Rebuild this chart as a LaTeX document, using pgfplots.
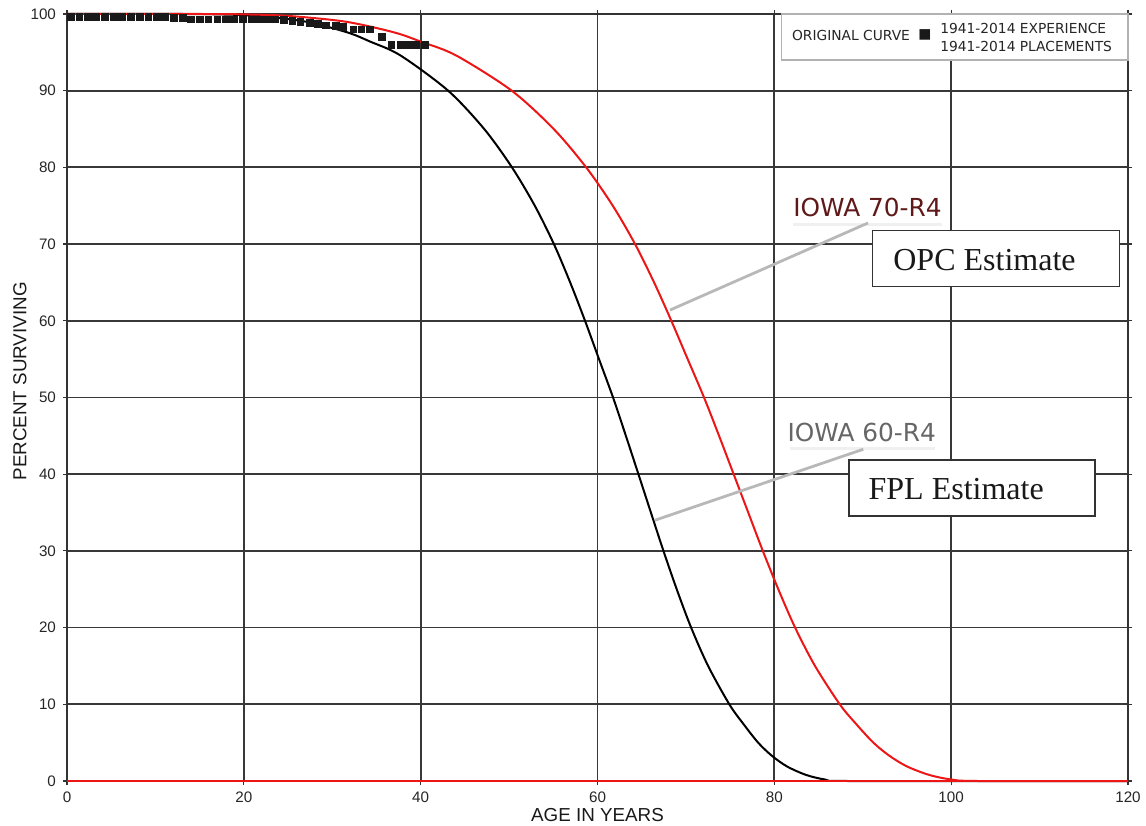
\documentclass[border=0pt]{standalone}
\usepackage{fontspec}
\setmainfont{Liberation Sans}
\newfontfamily\dejavu{DejaVu Sans}
\newfontfamily\timesf{Liberation Serif}
\usepackage{pgfplots}
\pgfplotsset{compat=1.18}
\definecolor{iowared}{RGB}{95,25,25}
\definecolor{curvered}{RGB}{236,22,22}

\begin{document}
\begin{tikzpicture}
\begin{axis}[
 name=ax,
 scale only axis, width=530.5pt, height=383.5pt,
 xmin=0, xmax=120, ymin=0, ymax=100,
 xtick={0,20,...,120}, ytick={0,10,...,100},
 grid=major,
 major grid style={line width=0.9pt, color=black!78},
 axis line style={line width=0.9pt, color=black!80},
 tick align=outside, major tick length=2pt,
 tick style={black!80, line width=0.6pt},
 ticklabel style={font=\fontsize{7.6}{8}\selectfont, text=black!85},
 /pgf/number format/assume math mode=true,
 xlabel={AGE IN YEARS}, ylabel={PERCENT SURVIVING},
 label style={font=\fontsize{9.4}{10}\selectfont, text=black!90, inner sep=0pt},
 xlabel style={at={(rel axis cs:0.5,-0.0352)}, anchor=north},
 ylabel style={at={(rel axis cs:-0.0443,0.521)}, anchor=center},
 clip=false,
]
% IOWA 60-R4 (FPL estimate)
\addplot[black, line width=1pt, smooth, tension=0.5] coordinates {
(0,100) (12.86,100) (17.14,99.95) (21.43,99.75) (27.0,99.0) (31.71,97.6)
(34.29,96.4) (37.71,94.6) (43.11,90) (47.19,85) (50.33,80) (52.91,75)
(55.07,70) (56.91,65) (58.59,60) (60.17,55) (61.76,50) (63.21,45) (64.63,40)
(66.04,35) (67.46,30) (68.96,25) (70.59,20) (72.51,15) (74.91,10) (76.46,7.5)
(78.17,5) (79.71,3.3) (81.43,1.9) (83.57,0.8) (85.71,0.2) (88.29,0) (120,0)};
% IOWA 70-R4 (OPC estimate)
\addplot[curvered, line width=1pt, smooth, tension=0.5] coordinates {
(0,100) (15,100) (20,99.95) (25,99.75) (31.5,99.0) (37,97.6) (40,96.4)
(44,94.6) (50.3,90) (55.05,85) (58.72,80) (61.73,75) (64.25,70) (66.4,65)
(68.35,60) (70.2,55) (72.05,50) (73.75,45) (75.4,40) (77.05,35) (78.7,30)
(80.45,25) (82.35,20) (84.6,15) (87.4,10) (89.2,7.5) (91.2,5) (93,3.3)
(95,1.9) (97.5,0.8) (100,0.2) (103,0) (120,0)};
\addplot[curvered, line width=1pt] coordinates {(0,0) (120,0)};
% 1941-2014 experience
\addplot[only marks, mark=square*, mark size=1.7pt, black!90] coordinates {
(0.4,99.6) (1.4,99.6) (2.35,99.6) (3.3,99.6) (4.3,99.6) (5.3,99.6) (6.25,99.6)
(7.2,99.6) (8.2,99.6) (9.2,99.6) (10.15,99.6) (11.1,99.6) (12.1,99.45) (13.1,99.45)
(14.05,99.3) (15.0,99.3) (16.0,99.3) (17.0,99.3) (17.95,99.3) (18.9,99.3)
(19.9,99.3) (20.9,99.3) (21.8,99.3) (22.7,99.3) (23.5,99.3) (24.5,99.2)
(25.5,99.1) (26.4,99.0) (27.5,98.8) (28.4,98.7) (29.3,98.5) (30.4,98.4)
(31.2,98.3) (32.4,98.0) (33.3,98.0) (34.3,98.0) (35.6,97.0) (36.7,96.0)
(37.7,96.0) (38.6,96.0) (39.5,96.0) (40.5,96.0)};

% legend
\draw[black!30, line width=0.6pt, fill=white] (axis cs:80.8,100) rectangle (axis cs:120,94.0);
\node[anchor=west, inner sep=0pt, font=\dejavu\fontsize{6.9}{8}\selectfont, text=black!85] at (axis cs:81.96,97.26) {ORIGINAL CURVE};
\node[inner sep=0pt, font=\dejavu\fontsize{6.9}{8}\selectfont, text=black!90] at (axis cs:97.03,97.26) {■};
\node[anchor=west, inner sep=0pt, font=\dejavu\fontsize{6.9}{8}\selectfont, text=black!85] at (axis cs:98.73,98.17) {1941-2014 EXPERIENCE};
\node[anchor=west, inner sep=0pt, font=\dejavu\fontsize{6.9}{8}\selectfont, text=black!85] at (axis cs:98.73,95.83) {1941-2014 PLACEMENTS};

% annotations
\draw[black!6, line width=1.5pt] (axis cs:82.1,72.6) -- (axis cs:99,72.6);
\draw[black!6, line width=1.5pt] (axis cs:81.8,43.4) -- (axis cs:98.2,43.4);
\node[anchor=base, inner sep=0pt, font=\dejavu\fontsize{12.4}{14}\selectfont, text=iowared] at (axis cs:90.53,73.57) {IOWA 70-R4};
\node[anchor=base, inner sep=0pt, font=\dejavu\fontsize{12.4}{14}\selectfont, text=black!60] at (axis cs:89.88,44.24) {IOWA 60-R4};
\draw[black!28, line width=1.4pt] (axis cs:90.59,72.75) -- (axis cs:68.2,61.4);
\draw[black!28, line width=1.4pt] (axis cs:90.06,43.25) -- (axis cs:66.5,34.0);
\draw[black!80, line width=0.6pt, fill=white] (axis cs:91.12,71.75) rectangle (axis cs:119.01,64.45);
\node[anchor=base west, inner sep=0pt, font=\timesf\fontsize{16}{18}\selectfont, text=black!90] at (axis cs:93.42,66.62) {OPC Estimate};
\draw[black!80, line width=0.6pt, fill=white] (axis cs:88.44,41.85) rectangle (axis cs:116.26,34.55);
\node[anchor=base west, inner sep=0pt, font=\timesf\fontsize{16}{18}\selectfont, text=black!90] at (axis cs:90.62,36.64) {FPL Estimate};
\end{axis}
\pgfresetboundingbox
\path[use as bounding box] (ax.south west) ++(-33.5pt,-22pt) rectangle ([shift={(9pt,7pt)}]ax.north east);
\end{tikzpicture}
\end{document}
